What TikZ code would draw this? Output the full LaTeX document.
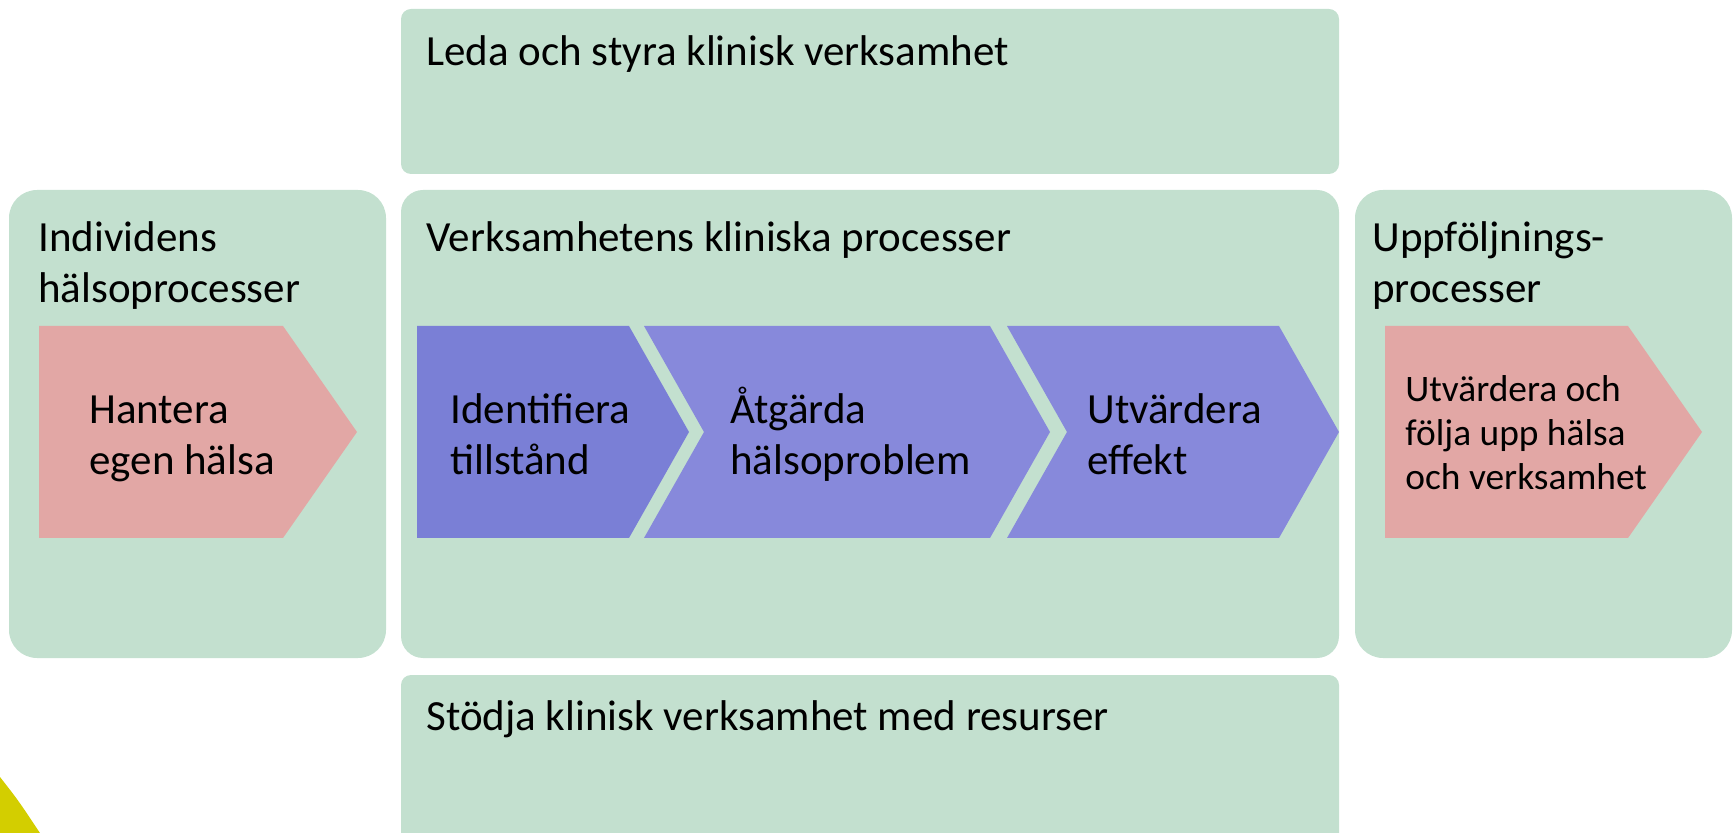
\documentclass[tikz,border=0pt]{standalone}
\usepackage{fontspec}
\setmainfont{Carlito}
\usetikzlibrary{positioning}
\definecolor{panelgreen}{HTML}{C3E0CF}
\definecolor{steppink}{HTML}{E2A7A5}
\definecolor{stepblueA}{HTML}{7A7FD6}
\definecolor{stepblueB}{HTML}{8789DB}
\definecolor{cornerlime}{HTML}{D3CE00}
\tikzstyle{panel}=[fill=panelgreen]
\tikzstyle{pinkstep}=[fill=steppink]
\tikzstyle{bluestepA}=[fill=stepblueA]
\tikzstyle{bluestepB}=[fill=stepblueB]
\tikzset{
	head/.style={anchor=base west,inner sep=0pt,align=left,font=\fontsize{21.5}{25.5}\selectfont},
	small/.style={anchor=base west,inner sep=0pt,align=left,font=\fontsize{18.7}{22}\selectfont}
}

\begin{document}
\begin{tikzpicture}[x=0.5pt,y=-0.5pt]
    \clip (0,0) rectangle (1734,833);
    % green panels
    \fill[panel,rounded corners=5pt] (401,9) rectangle (1339,174);
    \fill[panel,rounded corners=14pt] (9,190) rectangle (386,658);
    \fill[panel,rounded corners=11pt] (401,190) rectangle (1339,658);
    \fill[panel,rounded corners=14pt] (1355,190) rectangle (1732,658);
    \fill[panel,rounded corners=5pt] (401,675) rectangle (1339,900);
    % corner piece
    \fill[cornerlime] (0,777) .. controls (18,800) .. (40,833) -- (0,833) -- cycle;

    % process steps
    \fill[pinkstep] (39,326) -- (283,326) -- (357,432) -- (283,538) -- (39,538) -- cycle;
    \fill[bluestepA] (417,326) -- (629,326) -- (689,432) -- (629,538) -- (417,538) -- cycle;
    \fill[bluestepB] (644,326) -- (990,326) -- (1050,432) -- (990,538) -- (644,538) -- (704,432) -- cycle;
    \fill[bluestepB] (1007,326) -- (1279,326) -- (1339,432) -- (1279,538) -- (1007,538) -- (1067,432) -- cycle;
    \fill[pinkstep] (1385,326) -- (1628,326) -- (1702,432) -- (1628,538) -- (1385,538) -- cycle;

    % texts (base = last line)
    \node (lead) [head] at (426,66) {Leda och styra klinisk verksamhet};
    \node (indiv) [head] at (38,303) {Individens\\hälsoprocesser};
    \node (core) [head] at (426,252) {Verksamhetens kliniska processer};
    \node (follow) [head] at (1372,303) {Uppföljnings-\\processer};
    \node (support) [head] at (426,730) {Stödja klinisk verksamhet med resurser};
    \node (own) [head] at (89,475) {Hantera\\egen hälsa};
    \node (ident) [head] at (450,475) {Identifiera\\tillstånd};
    \node (act) [head] at (730,475) {Åtgärda\\hälsoproblem};
    \node (eval) [head] at (1087,475) {Utvärdera\\effekt};
    \node (track) [small] at (1405,490) {Utvärdera och\\följa upp hälsa\\och verksamhet};
\end{tikzpicture}
\end{document}
